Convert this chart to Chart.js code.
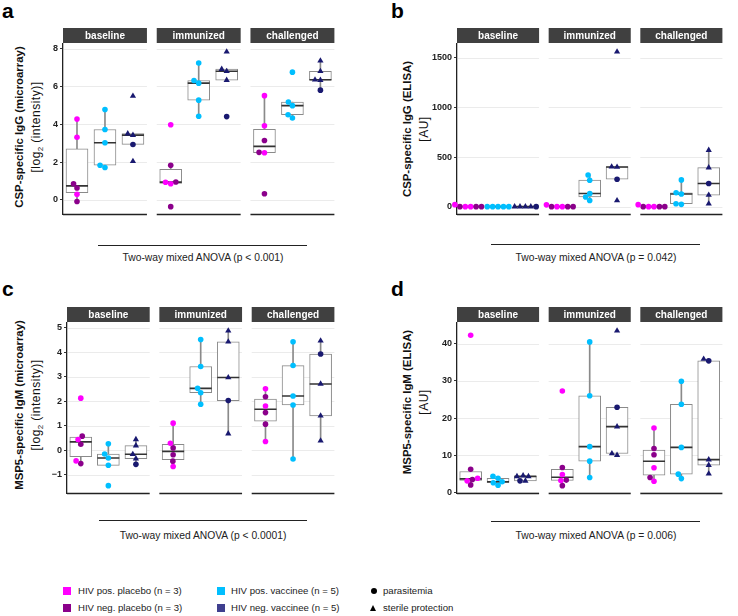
<!DOCTYPE html>
<html lang="en">
<head>
<meta charset="UTF-8">
<meta name="viewport" content="width=device-width, initial-scale=1.0">
<title>CSP and MSP5 antibody responses</title>
<script src="https://cdn.jsdelivr.net/npm/chart.js"></script>
<style>
    body { margin: 0; width: 738px; height: 616px; position: relative; overflow: hidden; background: #fff; font-family: "Liberation Sans", Arial, sans-serif; color: #222; }
    .panel { position: absolute; }
    .letter { position: absolute; font-size: 21px; font-weight: bold; line-height: 20px; color: #000; }
    .ytitle { position: absolute; width: 220px; height: 30px; text-align: center; transform: rotate(-90deg); line-height: 15px; color: #111; }
    .ytitle b { font-size: 11.4px; }
    .ytitle span { font-size: 12px; letter-spacing: 0.5px; }
    .ytitle sub { font-size: 8px; letter-spacing: 0; }
    .anova-line { position: absolute; height: 0; border-top: 1px solid #222; }
    .anova { position: absolute; width: 260px; text-align: center; font-size: 10.3px; line-height: 12px; }
    .sq { position: absolute; width: 8px; height: 8px; }
    .lg { position: absolute; font-size: 9.6px; line-height: 12px; white-space: nowrap; }
    .dot { position: absolute; width: 6px; height: 6px; border-radius: 50%; background: #000; }
    .tri { position: absolute; width: 0; height: 0; border-left: 3.5px solid transparent; border-right: 3.5px solid transparent; border-bottom: 6px solid #000; }
</style>
</head>
<body>
    <div class="letter" style="left:2px;top:1px">a</div>
    <div class="letter" style="left:391px;top:1px">b</div>
    <div class="letter" style="left:2px;top:279px">c</div>
    <div class="letter" style="left:391px;top:279px">d</div>

    <div class="ytitle" style="left:-85px;top:112px"><b>CSP-specific IgG (microarray)</b><br><span>[log<sub>2</sub> (intensity)]</span></div>
    <div class="ytitle" style="left:303px;top:114px"><b>CSP-specific IgG (ELISA)</b><br><span>[AU]</span></div>
    <div class="ytitle" style="left:-85px;top:390px"><b>MSP5-specific IgM (microarray)</b><br><span>[log<sub>2</sub> (intensity)]</span></div>
    <div class="ytitle" style="left:303px;top:387px"><b>MSP5-specific IgM (ELISA)</b><br><span>[AU]</span></div>

    <div class="panel" style="left:31px;top:27px;width:316px;height:200px"><canvas id="chartA"></canvas></div>
    <div class="panel" style="left:423px;top:27px;width:312px;height:200px"><canvas id="chartB"></canvas></div>
    <div class="panel" style="left:35px;top:306px;width:312px;height:200px"><canvas id="chartC"></canvas></div>
    <div class="panel" style="left:423px;top:306px;width:312px;height:200px"><canvas id="chartD"></canvas></div>

    <div class="anova-line" style="left:98px;top:245px;width:209px"></div>
    <div class="anova" style="left:73px;top:252px">Two-way mixed ANOVA (p &lt; 0.001)</div>
    <div class="anova-line" style="left:491px;top:244px;width:209px"></div>
    <div class="anova" style="left:466px;top:252px">Two-way mixed ANOVA (p = 0.042)</div>
    <div class="anova-line" style="left:99px;top:520px;width:208px"></div>
    <div class="anova" style="left:73px;top:530px">Two-way mixed ANOVA (p &lt; 0.0001)</div>
    <div class="anova-line" style="left:491px;top:521px;width:209px"></div>
    <div class="anova" style="left:466px;top:530px">Two-way mixed ANOVA (p = 0.006)</div>

    <div class="sq" style="left:63px;top:587px;background:#ff00ff"></div>
    <div class="lg" style="left:78px;top:585px">HIV pos. placebo (n = 3)</div>
    <div class="sq" style="left:63px;top:604px;background:#8b008b"></div>
    <div class="lg" style="left:78px;top:602px">HIV neg. placebo (n = 3)</div>
    <div class="sq" style="left:217px;top:587px;background:#00bfff"></div>
    <div class="lg" style="left:231px;top:585px">HIV pos. vaccinee (n = 5)</div>
    <div class="sq" style="left:217px;top:604px;background:#3f3f8f"></div>
    <div class="lg" style="left:231px;top:602px">HIV neg. vaccinee (n = 5)</div>
    <div class="dot" style="left:371px;top:588px"></div>
    <div class="lg" style="left:383px;top:585px">parasitemia</div>
    <div class="tri" style="left:370px;top:605px"></div>
    <div class="lg" style="left:383px;top:602px">sterile protection</div>

<script>
    Chart.defaults.font.family = "'Liberation Sans', Arial, sans-serif";
    Chart.defaults.animation = false;

    const facets = ['baseline', 'immunized', 'challenged'];
    const facetGap = 0.35;

    // one entry per facet; neg. vaccinee: last value is the parasitemia subject
    const cspArrayPosPlacebo = [[4.27, 3.31, 0.29], [3.97, 0.85, 0.93], [5.51, 3.92, 2.49]];
    const cspArrayNegPlacebo = [[0.85, 0.63, -0.09], [1.83, 0.94, -0.36], [3.14, 2.51, 0.32]];
    const cspArrayPosVaccinee = [[4.78, 3.72, 3.02, 1.83, 1.71], [7.23, 6.31, 6.17, 5.27, 4.42], [6.75, 5.17, 4.98, 4.5, 4.33]];
    const cspArrayNegVaccinee = [[5.49, 3.42, 3.5, 2.04, 2.93], [7.83, 6.91, 6.8, 6.33, 4.4], [7.35, 6.8, 6.33, 6.35, 5.8]];
    const cspArrayTicks = [0, 2, 4, 6, 8];

    const cspElisaPosPlacebo = [[20, 0, 0], [0, 0, 18], [20, 0, 0]];
    const cspElisaNegPlacebo = [[0, 0, 0], [0, 0, 0], [0, 0, 0]];
    const cspElisaPosVaccinee = [[0, 0, 0, 0, 0], [319, 267, 133, 98, 62], [270, 140, 127, 29, 23]];
    const cspElisaNegVaccinee = [[0, 0, 0, 0, 0], [1562, 400, 402, 62, 277], [569, 394, 117, 29, 234]];
    const cspElisaTicks = [0, 500, 1000, 1500];

    const mspArrayPosPlacebo = [[2.12, 0.43, -0.44], [1.1, 0.28, -0.67], [2.5, 1.8, 0.35]];
    const mspArrayNegPlacebo = [[0.57, 0.24, -0.55], [0.09, -0.19, -0.45], [2.18, 1.53, 1.06]];
    const mspArrayPosVaccinee = [[0.26, -0.16, -0.32, -0.62, -1.45], [4.51, 3.41, 2.52, 2.34, 1.87], [4.42, 3.45, 2.21, 1.84, -0.36]];
    const mspArrayNegVaccinee = [[0.44, 0.18, -0.17, -0.35, -0.58], [4.87, 4.42, 2.96, 0.67, 2.02], [4.46, 2.7, 1.4, 0.38, 3.92]];
    const mspArrayTicks = [-1, 0, 1, 2, 3, 4, 5];

    const mspElisaPosPlacebo = [[42.3, 3.8, 3.1], [27.3, 4.8, 3.2], [17.3, 6.6, 3.0]];
    const mspElisaNegPlacebo = [[6.2, 3.46, 2.0], [6.7, 3.3, 1.8], [11.8, 10.1, 4.0]];
    const mspElisaPosVaccinee = [[4.3, 3.8, 2.85, 2.6, 1.9], [40.5, 26.0, 12.3, 8.4, 4.0], [29.9, 23.7, 12.1, 4.9, 3.7]];
    const mspElisaNegVaccinee = [[4.3, 4.3, 4.5, 3.1, 3.1], [43.5, 17.7, 10.0, 10.45, 22.9], [35.9, 8.8, 7.3, 5.0, 35.4]];
    const mspElisaTicks = [0, 10, 20, 30, 40];

    const colPosPlacebo = '#ff00ff', colNegPlacebo = '#8b008b', colPosVaccinee = '#00bfff', colNegVaccinee = '#191970';

    function facetStart(f) { return f * (3 + facetGap); }
    function groupCenter(f, g) { return facetStart(f) + 0.5 + g; }

    function boxStats(vals) {
        const s = [...vals].sort((a, b) => a - b);
        const q = p => { const h = (s.length - 1) * p, lo = Math.floor(h); return s[lo] + (h - lo) * ((s[lo + 1] ?? s[lo]) - s[lo]); };
        const q1 = q(0.25), med = q(0.5), q3 = q(0.75), iqr = q3 - q1;
        const inside = s.filter(v => v >= q1 - 1.5 * iqr && v <= q3 + 1.5 * iqr);
        return { q1, med, q3, lo: inside[0], hi: inside[inside.length - 1] };
    }

    // simple beeswarm in pixel space, lowest values placed first
    function swarm(pys, d) {
        const order = pys.map((v, i) => i).sort((a, b) => pys[b] - pys[a]);
        const placed = [], offs = new Array(pys.length).fill(0);
        order.forEach(i => {
            const blocked = placed.filter(p => Math.abs(p.y - pys[i]) < d).map(p => {
                const w = Math.sqrt(d * d - (p.y - pys[i]) ** 2);
                return [p.x - w, p.x + w];
            });
            const cands = [0].concat(...blocked).sort((a, b) => Math.abs(a) - Math.abs(b));
            const x = cands.find(c => blocked.every(([l, r]) => c <= l + 1e-6 || c >= r - 1e-6));
            offs[i] = x;
            placed.push({ x, y: pys[i] });
        });
        return offs;
    }

    const facetPlugin = {
        id: 'facets',
        beforeDatasetsDraw(chart) {
            const { ctx, scales: { x, y } } = chart;
            const ticks = chart.options.plugins.facets.ticks;
            ctx.save();
            ctx.strokeStyle = '#ebebeb';
            ctx.lineWidth = 1;
            facets.forEach((name, f) => {
                const l = x.getPixelForValue(facetStart(f)) + (f === 0 ? 1 : 0), r = x.getPixelForValue(facetStart(f) + 3);
                ticks.forEach(t => {
                    const py = Math.round(y.getPixelForValue(t)) + 0.5;
                    ctx.beginPath(); ctx.moveTo(l, py); ctx.lineTo(r, py); ctx.stroke();
                });
            });
            ctx.restore();
        },
        afterDatasetsDraw(chart) {
            const { ctx, chartArea, scales: { x } } = chart;
            ctx.save();
            facets.forEach((name, f) => {
                const l = x.getPixelForValue(facetStart(f)), r = x.getPixelForValue(facetStart(f) + 3);
                ctx.fillStyle = '#404040';
                ctx.fillRect(l, chartArea.top - 16, r - l, 15);
                ctx.fillStyle = '#fff';
                ctx.font = "bold 10px 'Liberation Sans', Arial, sans-serif";
                ctx.textAlign = 'center';
                ctx.textBaseline = 'middle';
                ctx.fillText(name, (l + r) / 2, chartArea.top - 8);
                ctx.strokeStyle = '#222';
                ctx.lineWidth = 1.5;
                ctx.beginPath(); ctx.moveTo(l, chartArea.bottom); ctx.lineTo(r, chartArea.bottom); ctx.stroke();
            });
            ctx.restore();
        }
    };

    function pointSet(label, arr, g, color, styleOf) {
        const data = [], styles = [];
        arr.forEach((vals, f) => vals.forEach((v, i) => {
            data.push({ x: groupCenter(f, g), y: v, f, g });
            styles.push(styleOf(i));
        }));
        return {
            type: 'scatter', label, data, isPoints: true, order: 0, clip: false,
            pointStyle: styles, pointRadius: styles.map(s => s === 'triangle' ? 3.6 : 2.8),
            backgroundColor: color, borderColor: color, borderWidth: 0
        };
    }

    function makeChart(id, series, ticks, yWidth) {
        const [posPl, negPl, posVa, negVa] = series;
        const all = series.flat(2);
        const lo = Math.min(...all), hi = Math.max(...all), pad = (hi - lo) * 0.05;
        const whiskers = [], boxes = [], medians = [];
        facets.forEach((name, f) => {
            [posPl[f].concat(negPl[f]), posVa[f], negVa[f]].forEach((vals, g) => {
                const b = boxStats(vals), x = groupCenter(f, g);
                boxes.push({ x, y: [b.q1, b.q3] });
                medians.push({ x, y: b.med });
                whiskers.push({ x, y: [b.lo, b.q1] }, { x, y: [b.q3, b.hi] });
            });
        });

        const chart = new Chart(document.getElementById(id), {
            type: 'bar',
            data: {
                datasets: [
                    { type: 'bar', label: 'whiskers', data: whiskers, backgroundColor: '#8a8a8a', barThickness: 1, grouped: false, order: 3 },
                    { type: 'bar', label: 'box', data: boxes, backgroundColor: '#fff', borderColor: '#8a8a8a', borderWidth: 1, borderSkipped: false, barThickness: 22, grouped: false, order: 2 },
                    { type: 'scatter', label: 'median', data: medians, pointStyle: 'line', pointRadius: 11, borderColor: '#333', borderWidth: 1.6, order: 1 },
                    pointSet('HIV pos. placebo', posPl, 0, colPosPlacebo, () => 'circle'),
                    pointSet('HIV neg. placebo', negPl, 0, colNegPlacebo, () => 'circle'),
                    pointSet('HIV pos. vaccinee', posVa, 1, colPosVaccinee, () => 'circle'),
                    pointSet('HIV neg. vaccinee', negVa, 2, colNegVaccinee, i => i === 4 ? 'circle' : 'triangle')
                ]
            },
            options: {
                responsive: true,
                maintainAspectRatio: false,
                devicePixelRatio: 1,
                events: [],
                layout: { padding: { top: 17, right: 2, bottom: 8, left: 0 } },
                plugins: { legend: { display: false }, tooltip: { enabled: false }, facets: { ticks } },
                scales: {
                    x: { type: 'linear', min: 0, max: facetStart(2) + 3, offset: false, display: false },
                    y: {
                        min: lo - pad, max: hi + pad,
                        afterFit(s) { s.width = yWidth; },
                        afterBuildTicks(s) { s.ticks = ticks.map(v => ({ value: v })); },
                        grid: { drawOnChartArea: false, drawTicks: true, tickLength: 3, color: '#333' },
                        border: { display: true, color: '#222', width: 1.3 },
                        ticks: {
                            padding: 2, color: '#222',
                            font: { size: 9, weight: 'bold' },
                            callback: v => v < 0 ? '\u2212' + Math.abs(v) : v
                        }
                    }
                }
            },
            plugins: [facetPlugin]
        });

        // spread the points of each box sideways so they do not overlap
        const xs = chart.scales.x, ys = chart.scales.y;
        const ppu = xs.getPixelForValue(1) - xs.getPixelForValue(0);
        const pts = chart.data.datasets.filter(d => d.isPoints).flatMap(d => d.data);
        facets.forEach((name, f) => [0, 1, 2].forEach(g => {
            const grp = pts.filter(p => p.f === f && p.g === g);
            const offs = swarm(grp.map(p => ys.getPixelForValue(p.y)), 5.4);
            grp.forEach((p, i) => { p.x = groupCenter(f, g) + offs[i] / ppu; });
        }));
        chart.update('none');
        return chart;
    }

    makeChart('chartA', [cspArrayPosPlacebo, cspArrayNegPlacebo, cspArrayPosVaccinee, cspArrayNegVaccinee], cspArrayTicks, 32);
    makeChart('chartB', [cspElisaPosPlacebo, cspElisaNegPlacebo, cspElisaPosVaccinee, cspElisaNegVaccinee], cspElisaTicks, 34);
    makeChart('chartC', [mspArrayPosPlacebo, mspArrayNegPlacebo, mspArrayPosVaccinee, mspArrayNegVaccinee], mspArrayTicks, 32);
    makeChart('chartD', [mspElisaPosPlacebo, mspElisaNegPlacebo, mspElisaPosVaccinee, mspElisaNegVaccinee], mspElisaTicks, 34);
</script>
</body>
</html>
